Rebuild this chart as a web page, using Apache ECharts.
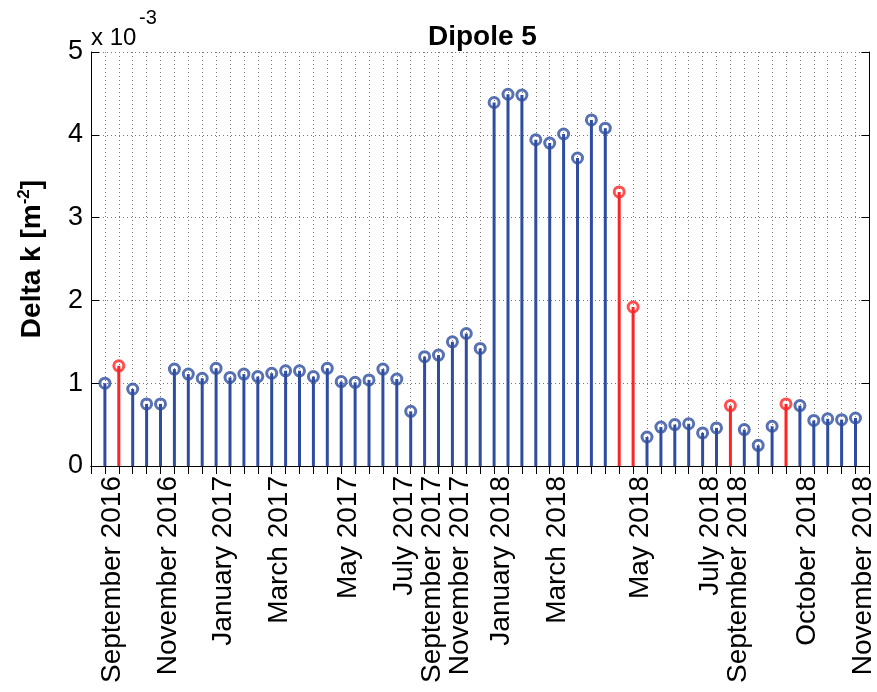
<!DOCTYPE html>
<html><head><meta charset="utf-8">
<script src="https://cdn.jsdelivr.net/npm/echarts@6/dist/echarts.min.js"></script>
<style>html,body{margin:0;padding:0;background:#fff}#c{width:877px;height:692px}</style>
</head><body><div id="c"></div>
<script>
// Delta k values, in units of 10^-3 m^-2, one per measurement (stem)
const stemValues = [1.00, 1.21, 0.93, 0.75, 0.75, 1.17, 1.11, 1.06, 1.18, 1.07,
  1.11, 1.08, 1.12, 1.15, 1.15, 1.08, 1.18, 1.02, 1.01, 1.04,
  1.17, 1.05, 0.66, 1.32, 1.34, 1.50, 1.60, 1.42, 4.39, 4.49,
  4.48, 3.94, 3.90, 4.01, 3.72, 4.18, 4.08, 3.31, 1.92, 0.35,
  0.47, 0.50, 0.51, 0.40, 0.46, 0.73, 0.44, 0.25, 0.48, 0.75,
  0.73, 0.55, 0.57, 0.56, 0.58];
// stems (1-based) drawn in red
const redStems = [2, 38, 39, 46, 50];
// tick labels: stem number and text
const labelStems = [1, 5, 9, 13, 18, 22, 24, 26, 29, 33, 39, 44, 46, 51, 55];
const labelTexts = ['September 2016', 'November 2016', 'January 2017', 'March 2017', 'May 2017',
  'July 2017', 'September 2017', 'November 2017', 'January 2018', 'March 2018',
  'May 2018', 'July 2018', 'September 2018', 'October 2018', 'November 2018'];
const yMin = 0, yMax = 5, yStep = 1;

const BLUE = '#2E4DA0', RED = '#FF2323';
const FONT = '"Liberation Sans", Arial, Helvetica, sans-serif';
const n = stemValues.length;
const cats = [];
for (let i = 0; i <= n + 1; i++) cats.push(String(i));
const labelOf = i => { const k = labelStems.indexOf(i); return k >= 0 ? labelTexts[k] : ''; };
const colorOf = i => redStems.indexOf(i) >= 0 ? RED : BLUE;
const barData = [null], dotData = [null];
stemValues.forEach((v, j) => {
  const i = j + 1;
  barData.push({ value: v, itemStyle: { color: colorOf(i) } });
  dotData.push({ value: v, itemStyle: { borderColor: colorOf(i) } });
});
barData.push(null); dotData.push(null);

const gridLine = { color: '#777', width: 1, type: [1, 3] };
const chart = echarts.init(document.getElementById('c'), null, { renderer: 'canvas' });
chart.setOption({
  backgroundColor: '#fff',
  animation: false,
  title: [
    { text: 'Dipole 5', left: 423, top: 18,
      textStyle: { fontFamily: FONT, fontSize: 28, fontWeight: 'bold', color: '#000' } },
    { text: 'x 10', left: 86, top: 21,
      textStyle: { fontFamily: FONT, fontSize: 24, fontWeight: 'normal', color: '#000' } },
    { text: '-3', left: 134, top: 3,
      textStyle: { fontFamily: FONT, fontSize: 20, fontWeight: 'normal', color: '#000' } }
  ],
  grid: { left: 91, right: 7, top: 52, bottom: 226, containLabel: false },
  xAxis: [
    { type: 'category', data: cats, boundaryGap: false, position: 'bottom',
      axisLine: { show: true, lineStyle: { color: '#000', width: 1 } },
      axisTick: { show: true, inside: true, length: 8, interval: 0, lineStyle: { color: '#000' } },
      axisLabel: { interval: 0, rotate: 90, margin: 10, verticalAlign: 'top', lineHeight: 15,
        fontFamily: FONT, fontSize: 28, color: '#000',
        formatter: (v, idx) => labelOf(idx) },
      splitLine: { show: true, interval: 0, lineStyle: gridLine } },
    { type: 'category', data: cats, boundaryGap: false, position: 'top',
      axisLine: { show: true, lineStyle: { color: '#000', width: 1 } },
      axisTick: { show: true, inside: true, length: 8, interval: 0, lineStyle: { color: '#000' } },
      axisLabel: { show: false }, splitLine: { show: false } }
  ],
  yAxis: [
    { type: 'value', min: yMin, max: yMax, interval: yStep, position: 'left',
      name: 'Delta k [m{sup|-2}]', nameLocation: 'middle', nameRotate: 90, nameGap: 42,
      nameTextStyle: { fontFamily: FONT, fontSize: 28, fontWeight: 'bold', color: '#000',
        rich: { sup: { fontFamily: FONT, fontSize: 17, fontWeight: 'bold', color: '#000', padding: [0, 0, 16, 0] } } },
      axisLine: { show: true, lineStyle: { color: '#000', width: 1 } },
      axisTick: { show: true, inside: true, length: 8, lineStyle: { color: '#000' } },
      axisLabel: { margin: 8, fontFamily: FONT, fontSize: 27, color: '#000' },
      splitLine: { show: true, lineStyle: gridLine } },
    { type: 'value', min: yMin, max: yMax, interval: yStep, position: 'right',
      axisLine: { show: true, lineStyle: { color: '#000', width: 1 } },
      axisTick: { show: true, inside: true, length: 8, lineStyle: { color: '#000' } },
      axisLabel: { show: false }, splitLine: { show: false } }
  ],
  series: [
    { type: 'bar', xAxisIndex: 0, yAxisIndex: 0, data: barData, barWidth: 3, z: 3, silent: true },
    { type: 'scatter', xAxisIndex: 0, yAxisIndex: 0, data: dotData, symbol: 'circle', symbolSize: 10,
      itemStyle: { color: 'rgba(255,255,255,0)', borderWidth: 3 }, z: 4, silent: true }
  ]
});
</script></body></html>
